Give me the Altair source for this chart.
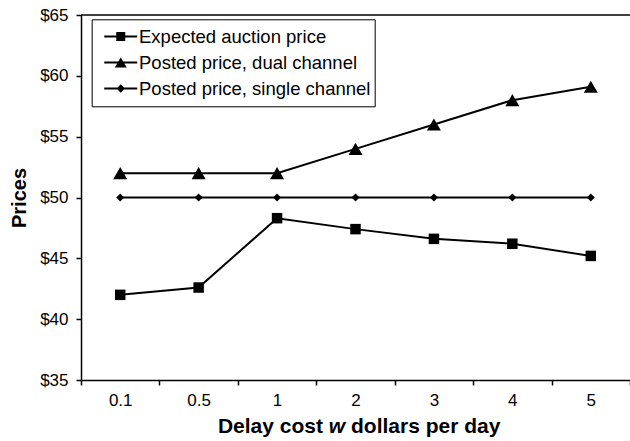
import altair as alt
import pandas as pd

# ---- data -------------------------------------------------------------
delay_costs = ["0.1", "0.5", "1", "2", "3", "4", "5"]
series_names = [
    "Expected auction price",
    "Posted price, dual channel",
    "Posted price, single channel",
]
auction_price = [42.0, 42.6, 48.3, 47.4, 46.6, 46.2, 45.2]
dual_channel_price = [52, 52, 52, 54, 56, 58, 59.1]
single_channel_price = [50, 50, 50, 50, 50, 50, 50]
price_ticks = [35, 40, 45, 50, 55, 60, 65]
x_title_parts = ["Delay cost", "w", "dollars per day"]
y_title = "Prices"

rows = []
for name, values in zip(series_names, [auction_price, dual_channel_price, single_channel_price]):
    for d, v in zip(delay_costs, values):
        rows.append({"delay": d, "series": name, "price": v})
df = pd.DataFrame(rows)

# ---- layout / style ---------------------------------------------------
FONT = "Liberation Sans"
W, H = 549, 365
PAD_LEFT, PAD_TOP = 81, 15

marker_shapes = ["square", "triangle-up", "diamond"]
marker_sizes = [110, 196, 64]

# legend glyphs: a short line with the series marker on top (unit = 5 px)
legend_line = "M-3.3,-0.2H3.3V0.2H-3.3Z"
legend_paths = [
    legend_line + "M-0.9,-0.9H0.9V0.9H-0.9Z",
    legend_line + "M0,-1L1.2,1H-1.2Z",
    legend_line + "M0,-0.85L0.85,0L0,0.85L-0.85,0Z",
]

x_enc = alt.X(
    "delay:N",
    sort=delay_costs,
    bandPosition=0.5,
    scale=alt.Scale(type="band", domain=delay_costs, paddingInner=0, paddingOuter=0),
    axis=alt.Axis(
        title=None, tickBand="extent", labelAngle=0, grid=False,
        labelFont=FONT, labelFontSize=17, labelColor="black", labelPadding=7,
        tickSize=5, tickColor="black", tickWidth=1.5,
        domainColor="black", domainWidth=1.5,
    ),
)
y_enc = alt.Y(
    "price:Q",
    scale=alt.Scale(domain=[35, 65], nice=False, zero=False),
    axis=alt.Axis(
        values=price_ticks, labelExpr="'$' + datum.value", grid=False,
        labelFont=FONT, labelFontSize=17, labelColor="black", labelPadding=8,
        tickSize=5, tickColor="black", tickWidth=1.5,
        domainColor="black", domainWidth=1.5,
        title=y_title, titleFont=FONT, titleFontSize=20, titleFontWeight="bold",
        titleColor="black", titleX=-56, titleY=H / 2, titleBaseline="alphabetic",
    ),
)

base = alt.Chart(df)

lines = base.mark_line(color="black", strokeWidth=2).encode(
    x=x_enc, y=y_enc, detail="series:N"
)

point_layers = [
    base.transform_filter(alt.datum.series == name)
    .mark_point(filled=True, color="black", opacity=1, strokeWidth=0, shape=shp, size=sz)
    .encode(x=x_enc, y=y_enc)
    for name, shp, sz in zip(series_names, marker_shapes, marker_sizes)
]

legend_layer = (
    base.transform_filter("false")
    .mark_point(filled=True, color="black", opacity=1)
    .encode(
        shape=alt.Shape(
            "series:N",
            scale=alt.Scale(domain=series_names, range=legend_paths),
            legend=alt.Legend(
                title=None, orient="none", legendX=10.7, legendY=4.3,
                padding=4.3, clipHeight=26, rowPadding=0,
                symbolSize=100, symbolOffset=15.5, labelOffset=9,
                symbolFillColor="black", symbolStrokeWidth=0,
                labelFont=FONT, labelFontSize=18.5, labelColor="black", labelLimit=0,
                labelExpr="datum.label + ' '",
                strokeColor="black",
            ),
        )
    )
)

# top frame line of the plot area
top_border = alt.Chart(pd.DataFrame({"k": [0]})).mark_rule(
    color="black", strokeWidth=1.5
).encode(x=alt.value(0), x2=alt.value(W), y=alt.value(0))

# x-axis title with italic "w"
TF = 21
w_center = 256
title_y = 412
t_left = alt.Chart(pd.DataFrame({"t": [x_title_parts[0]]})).mark_text(
    font=FONT, fontSize=TF, fontWeight="bold", color="black", align="right", baseline="middle"
).encode(text="t:N", x=alt.value(w_center - 0.389 * TF - 0.278 * TF), y=alt.value(title_y))
t_mid = alt.Chart(pd.DataFrame({"t": [x_title_parts[1]]})).mark_text(
    font=FONT, fontSize=TF, fontWeight="bold", fontStyle="italic", color="black",
    align="center", baseline="middle"
).encode(text="t:N", x=alt.value(w_center), y=alt.value(title_y))
t_right = alt.Chart(pd.DataFrame({"t": [x_title_parts[2]]})).mark_text(
    font=FONT, fontSize=TF, fontWeight="bold", color="black", align="left", baseline="middle"
).encode(text="t:N", x=alt.value(w_center + 0.389 * TF + 0.278 * TF), y=alt.value(title_y))

chart = (
    alt.layer(lines, *point_layers, legend_layer, top_border, t_left, t_mid, t_right)
    .resolve_scale(shape="independent")
    .properties(
        width=W, height=H, autosize="none",
        padding={"left": PAD_LEFT, "top": PAD_TOP, "right": 0, "bottom": 441 - PAD_TOP - H},
        background="white",
    )
    .configure_view(stroke=None)
)

chart.save("out.html", embed_options={"renderer": "svg", "actions": False})
